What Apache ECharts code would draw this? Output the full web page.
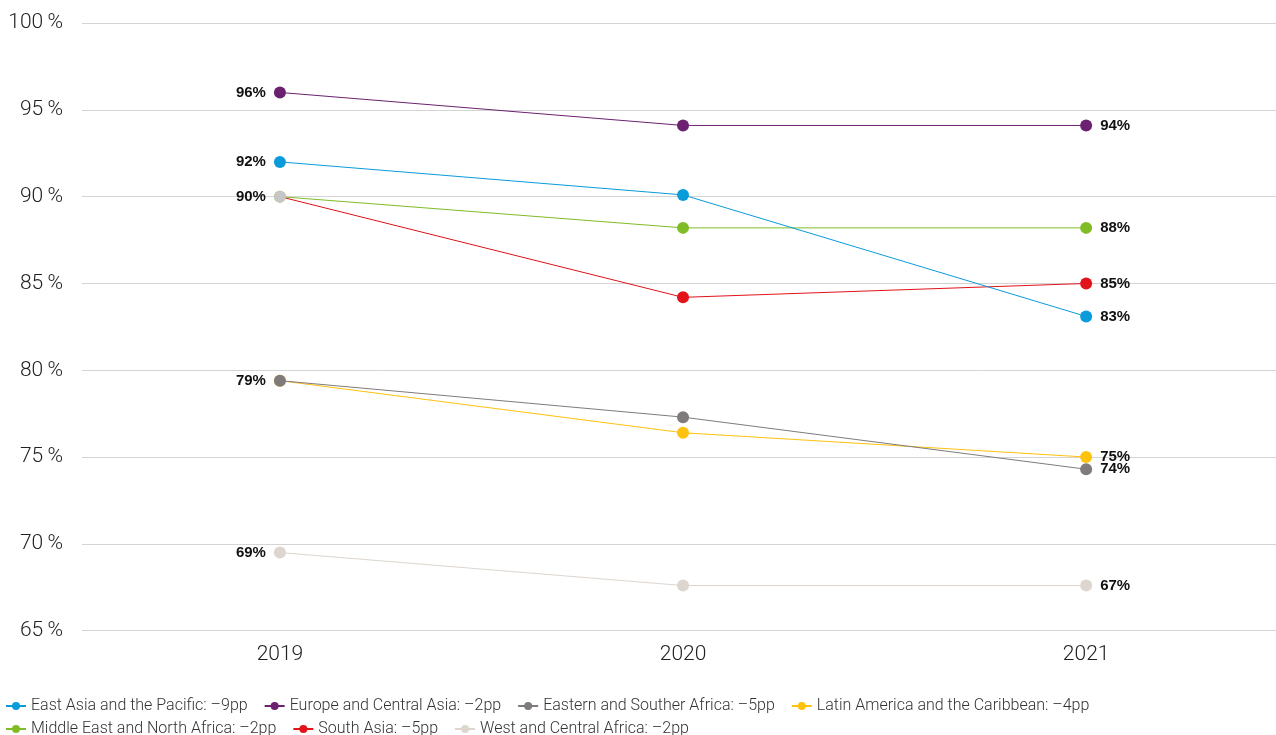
<!DOCTYPE html>
<html>
<head>
<meta charset="utf-8">
<script src="https://cdn.jsdelivr.net/npm/echarts@6/dist/echarts.min.js"></script>
<style>
  html, body { margin: 0; padding: 0; background: #fff; }
  #chart { width: 1276px; height: 735px; }
</style>
</head>
<body>
<div id="chart"></div>
<script>
// Years on the horizontal axis
const years = [2019, 2020, 2021];

// Share (%) per region and year
const eastAsiaPacific      = [92.0, 90.1, 83.1];
const europeCentralAsia    = [96.0, 94.1, 94.1];
const easternSouthAfrica   = [79.4, 77.3, 74.3];
const latinAmerica         = [79.4, 76.4, 75.0];
const middleEastNorthAfr   = [90.0, 88.2, 88.2];
const southAsia            = [90.0, 84.2, 85.0];
const westCentralAfrica    = [69.5, 67.6, 67.6];

// Legend names (change from 2019 to 2021)
const nEastAsia = 'East Asia and the Pacific: \u20139pp';
const nEurope   = 'Europe and Central Asia: \u20132pp';
const nESA      = 'Eastern and Souther Africa: \u20135pp';
const nLAC      = 'Latin America and the Caribbean: \u20134pp';
const nMENA     = 'Middle East and North Africa: \u20132pp';
const nSouth    = 'South Asia: \u20135pp';
const nWCA      = 'West and Central Africa: \u20132pp';

const yTicks = { min: 65, max: 100, step: 5 };
// Horizontal padding around the first and last year (in years)
const xPadLeft = 0.491;
const xPadRight = 0.471;

const labelFont = {
  fontFamily: 'Liberation Sans, Arial, sans-serif',
  fontWeight: 'bold',
  fontSize: 15,
  color: '#111'
};

// Build a line series; the last point is always labelled on the right,
// the first one on the left only where requested.
function makeSeries(name, values, color, labelFirst, firstColor) {
  return {
    name: name,
    type: 'line',
    symbol: 'circle',
    symbolSize: 12,
    lineStyle: { width: 1, color: color },
    itemStyle: { color: color },
    emphasis: { disabled: true },
    data: values.map(function (v, i) {
      const item = { value: [years[i], v] };
      const last = i === values.length - 1;
      if (last || (i === 0 && labelFirst)) {
        item.label = Object.assign({
          show: true,
          position: last ? 'right' : 'left',
          distance: 8,
          formatter: function (p) { return Math.floor(p.value[1] + 1e-9) + '%'; }
        }, labelFont);
      }
      if (i === 0 && firstColor) item.itemStyle = { color: firstColor };
      return item;
    })
  };
}

const chart = echarts.init(document.getElementById('chart'), null, { renderer: 'canvas' });

const legendText = { fontFamily: 'Roboto, sans-serif', fontWeight: 300, fontSize: 16, lineHeight: 18, color: '#333' };
const legendBase = {
  left: 5,
  padding: 0,
  orient: 'horizontal',
  itemWidth: 20,
  itemHeight: 10,
  itemGap: 16,
  textStyle: legendText,
  selectedMode: false
};

chart.setOption({
  animation: false,
  backgroundColor: '#fff',
  grid: { left: 82, right: 0, top: 23, bottom: 104.3, containLabel: false },
  legend: [
    Object.assign({ top: 697, data: [nEastAsia, nEurope, nESA, nLAC] }, legendBase),
    Object.assign({ top: 720, data: [nMENA, nSouth, nWCA] }, legendBase)
  ],
  xAxis: {
    type: 'value',
    min: years[0] - xPadLeft,
    max: years[years.length - 1] + xPadRight,
    axisLine: { show: false },
    axisTick: { show: false },
    splitLine: { show: false },
    axisLabel: {
      customValues: years,
      formatter: function (v) { return String(v); },
      fontFamily: 'Roboto, sans-serif', fontWeight: 300, fontSize: 21, color: '#222', margin: 14
    }
  },
  yAxis: {
    type: 'value',
    min: yTicks.min,
    max: yTicks.max,
    interval: yTicks.step,
    axisLine: { show: false },
    axisTick: { show: false },
    splitLine: { lineStyle: { color: '#d4d4d4', width: 1 } },
    axisLabel: {
      fontFamily: 'Roboto, sans-serif', fontWeight: 300, fontSize: 21, color: '#222', margin: 19,
      formatter: '{value}\u2009%'
    }
  },
  series: [
    makeSeries(nWCA, westCentralAfrica, '#ddd6cf', true),
    makeSeries(nLAC, latinAmerica, '#ffc20e', false),
    makeSeries(nESA, easternSouthAfrica, '#7f7b7c', true),
    makeSeries(nMENA, middleEastNorthAfr, '#80bc26', false),
    makeSeries(nSouth, southAsia, '#e2131b', true, '#c6c6c6'),
    makeSeries(nEastAsia, eastAsiaPacific, '#0a9bdb', true),
    makeSeries(nEurope, europeCentralAsia, '#6b2170', true)
  ]
});
</script>
</body>
</html>
